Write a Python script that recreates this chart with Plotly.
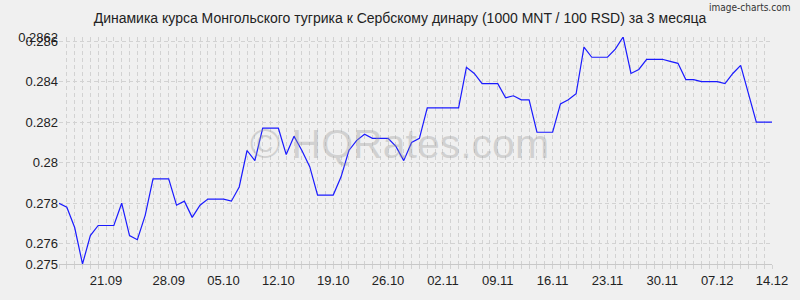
import pandas as pd
import plotly.graph_objects as go

start_date = "2020-09-14"
rates = [
    0.2780, 0.2778, 0.2768, 0.2750, 0.2764, 0.2769, 0.2769, 0.2769, 0.2780, 0.2764,
    0.2762, 0.2774, 0.2792, 0.2792, 0.2792, 0.2779, 0.2781, 0.2773, 0.2779, 0.2782,
    0.2782, 0.2782, 0.2781, 0.2788, 0.2806, 0.2801, 0.2817, 0.2817, 0.2817, 0.2804,
    0.2813, 0.2806, 0.2798, 0.2784, 0.2784, 0.2784, 0.2793, 0.2806, 0.2811, 0.2814,
    0.2812, 0.2812, 0.2812, 0.2808, 0.2801, 0.2810, 0.2812, 0.2827, 0.2827, 0.2827,
    0.2827, 0.2827, 0.2847, 0.2844, 0.2839, 0.2839, 0.2839, 0.2832, 0.2833, 0.2831,
    0.2831, 0.2815, 0.2815, 0.2815, 0.2829, 0.2831, 0.2834, 0.2857, 0.2852, 0.2852,
    0.2852, 0.2856, 0.2862, 0.2844, 0.2846, 0.2851, 0.2851, 0.2851, 0.2850, 0.2849,
    0.2841, 0.2841, 0.2840, 0.2840, 0.2840, 0.2839, 0.2844, 0.2848, 0.2834, 0.2820,
    0.2820, 0.2820,
]
dates = pd.date_range(start_date, periods=len(rates), freq="D")

x_tick_dates = ["2020-09-20", "2020-09-28", "2020-10-05", "2020-10-12", "2020-10-19",
                "2020-10-26", "2020-11-02", "2020-11-09", "2020-11-16", "2020-11-23",
                "2020-11-30", "2020-12-07", "2020-12-14"]
x_tick_labels = ["21.09", "28.09", "05.10", "12.10", "19.10", "26.10", "02.11",
                 "09.11", "16.11", "23.11", "30.11", "07.12", "14.12"]
y_tick_vals = [0.275, 0.276, 0.278, 0.280, 0.282, 0.284, 0.286, 0.2862]
y_tick_labels = ["0.275", "0.276", "0.278", "0.28", "0.282", "0.284", "0.286", "0.2862"]
y_range = [0.275, 0.2862]

title = "Динамика курса Монгольского тугрика к Сербскому динару (1000 MNT / 100 RSD) за 3 месяца"

BG = "#f0f0f0"
GRID = "#d2d2d2"
FONT = "Liberation Sans, Arial, sans-serif"

fig = go.Figure()
fig.add_trace(go.Scatter(
    x=dates, y=rates, mode="lines",
    line=dict(color="#1a1aff", width=1.2),
    hoverinfo="skip",
))

fig.update_layout(
    width=800, height=300,
    margin=dict(l=59, r=21, t=37, b=34),
    paper_bgcolor=BG, plot_bgcolor=BG,
    showlegend=False,
    font=dict(family=FONT, size=13, color="#222222"),
    title=dict(text=title, x=0.5, xanchor="center", y=0.94, yanchor="middle",
               font=dict(family=FONT, size=14, color="#222222")),
)

fig.update_xaxes(
    range=[dates[0], dates[-1]],
    tickmode="array", tickvals=x_tick_dates, ticktext=x_tick_labels,
    showgrid=True, gridcolor=GRID, griddash="4px,3px", gridwidth=1,
    ticks="outside", ticklen=4, tickcolor=GRID,
    minor=dict(dtick=86400000, tick0=start_date, showgrid=True, gridcolor=GRID,
               griddash="4px,3px", gridwidth=1, ticks="outside", ticklen=4,
               tickcolor=GRID),
    showline=True, linecolor="#c8c8c8", linewidth=1,
    zeroline=False,
    tickfont=dict(family=FONT, size=13, color="#222222"),
)

fig.update_yaxes(
    range=y_range,
    tickmode="array", tickvals=y_tick_vals, ticktext=y_tick_labels,
    showgrid=True, gridcolor=GRID, griddash="4px,3px", gridwidth=1,
    ticks="", showline=False, zeroline=False,
    tickfont=dict(family=FONT, size=13, color="#222222"),
)

# Watermarks
fig.add_annotation(
    text="© HQRates.com", xref="paper", yref="paper", x=0.478, y=0.53,
    xanchor="center", yanchor="middle", showarrow=False,
    font=dict(family=FONT, size=41, color="rgba(150,150,150,0.35)"),
)
fig.add_annotation(
    text="image-charts.com", xref="paper", yref="paper", x=1.0 + 20/720, y=1 + 30/229,
    xanchor="right", yanchor="middle", showarrow=False,
    font=dict(family="DejaVu Sans Condensed, Liberation Sans Narrow, sans-serif",
              size=10, color="#333333"),
)

fig.write_html("out.html")
